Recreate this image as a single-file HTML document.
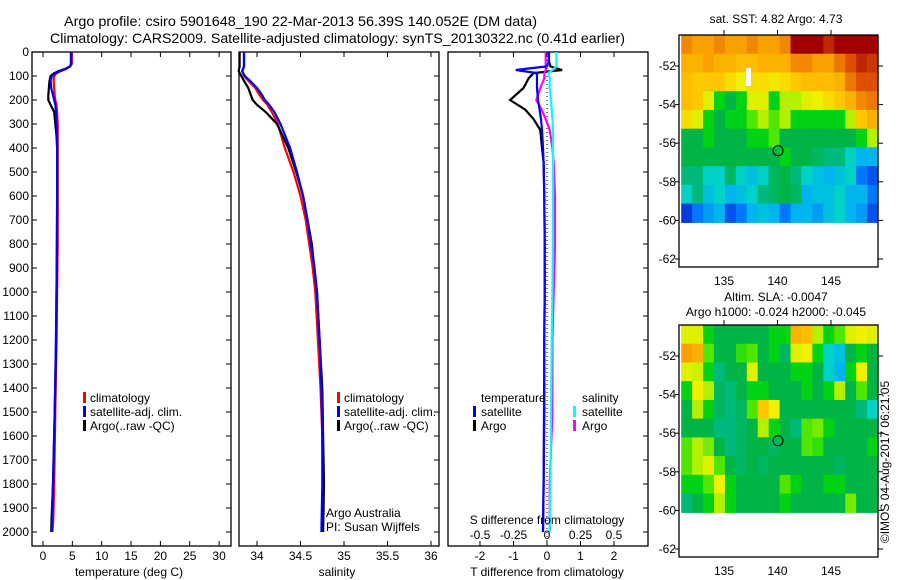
<!DOCTYPE html>
<html><head><meta charset="utf-8">
<style>
html,body{margin:0;padding:0;background:#fff;}
svg{display:block;font-family:"Liberation Sans",Helvetica,sans-serif;font-size:12px;}
</style></head>
<body>
<svg id="fig" width="900" height="580" viewBox="0 0 900 580" xmlns="http://www.w3.org/2000/svg">
<text x="64" y="26" font-size="14" textLength="473" lengthAdjust="spacingAndGlyphs">Argo profile: csiro 5901648_190 22-Mar-2013 56.39S 140.052E (DM data)</text>
<text x="50" y="43" font-size="14" textLength="575" lengthAdjust="spacingAndGlyphs">Climatology: CARS2009. Satellite-adjusted climatology: synTS_20130322.nc (0.41d earlier)</text>
<g id="g"></g>
<text x="776" y="23" text-anchor="middle">sat. SST: 4.82 Argo: 4.73</text>
<text x="776" y="301" text-anchor="middle">Altim. SLA: -0.0047</text>
<text x="776" y="316" text-anchor="middle">Argo h1000: -0.024 h2000: -0.045</text>
<text transform="translate(889,462) rotate(-90)" text-anchor="middle">©IMOS 04-Aug-2017 06:21:05</text>
</svg>
<script>
// ---------- data ----------
const tDepth = [0,50,60,70,80,90,100,120,150,180,200,220,250,300,350,400,600,800,1000,1200,1500,1800,1950,2000];
const tArgo  = [4.75,4.75,4.6,3.8,2.6,1.8,1.3,1.1,1.0,0.9,0.9,1.3,1.9,2.1,2.3,2.4,2.4,2.35,2.3,2.25,2.0,1.7,1.45,1.4];
const tClim  = [4.9,4.9,4.6,4.0,3.0,2.2,1.9,1.8,1.9,2.0,2.1,2.3,2.4,2.5,2.5,2.5,2.5,2.5,2.4,2.3,2.1,1.9,1.75,1.6];
const tSat   = [4.8,4.8,4.6,3.9,2.8,2.0,1.5,1.3,1.4,1.7,1.9,2.1,2.2,2.3,2.4,2.4,2.4,2.4,2.3,2.2,2.0,1.7,1.55,1.5];
const sDepth = [0,60,80,100,120,150,180,200,220,250,300,400,500,600,700,800,900,1000,1200,1400,1600,1800,2000];
const sArgo  = [33.8,33.8,33.79,33.82,33.85,33.9,33.93,33.95,34.0,34.1,34.23,34.36,34.45,34.53,34.58,34.63,34.66,34.69,34.72,34.75,34.76,34.77,34.76];
const sClim  = [33.85,33.85,33.83,33.85,33.9,33.98,34.03,34.07,34.12,34.17,34.24,34.32,34.42,34.5,34.56,34.6,34.64,34.67,34.7,34.73,34.75,34.76,34.75];
const sSat   = [33.85,33.85,33.83,33.86,33.92,34.0,34.06,34.09,34.14,34.2,34.27,34.38,34.46,34.53,34.58,34.62,34.66,34.69,34.72,34.74,34.75,34.75,34.74];
const dDepth = [0,40,60,75,88,110,150,200,240,280,325,400,460,600,800,1000,1200,1500,1800,2000];
const dTArgo = [0.06,0.06,0.1,0.45,-0.4,-0.55,-0.7,-1.1,-0.65,-0.4,-0.2,-0.15,-0.1,-0.08,-0.07,-0.07,-0.08,-0.08,-0.1,-0.12];
const dTSat  = [0.06,0.05,0.0,-0.93,-0.3,-0.3,-0.3,-0.27,-0.22,-0.18,-0.15,-0.12,-0.1,-0.08,-0.07,-0.07,-0.08,-0.09,-0.1,-0.12];
const dSArgo = [-0.01,-0.01,-0.01,-0.01,-0.02,-0.02,-0.05,-0.08,-0.04,-0.01,0.02,0.04,0.05,0.06,0.06,0.05,0.04,0.04,0.02,0.02];
const dSSat  = [0.07,0.07,0.07,0.04,0.01,0.02,0.02,0.03,0.035,0.04,0.045,0.045,0.045,0.045,0.045,0.04,0.035,0.03,0.025,0.02];
const depthTicks = [0,100,200,300,400,500,600,700,800,900,1000,1100,1200,1300,1400,1500,1600,1700,1800,1900,2000];
const tTicks = [0,5,10,15,20,25,30];
const sTicks = [34,34.5,35,35.5,36];
const dtTicks = [-2,-1,0,1,2];
const dsTicks = [-0.5,-0.25,0,0.25,0.5];
const dsTickLabels = ["-0.5","-0.25","0","0.25","0.5"];
const latTicks = [-52,-54,-56,-58,-60,-62];
const lonTicks = [135,140,145];
const argoLon = 140.052, argoLat = -56.39;
const sstGrid = [
[.78,.75,.75,.78,.75,.75,.78,.75,.75,.78,.95,.95,.95,.9,.95,.95,.95,.95],
[.72,.72,.75,.72,.72,.7,.7,.72,.72,.72,.78,.78,.75,.75,.8,.85,.9,.88],
[.7,.68,.68,.68,.65,.62,.65,.65,.63,.65,.68,.7,.7,.7,.72,.8,.85,.85],
[.7,.68,.6,.45,.42,.45,.6,.6,.45,.55,.55,.6,.62,.65,.68,.72,.78,.8],
[.65,.6,.45,.42,.45,.45,.5,.55,.5,.55,.45,.45,.45,.45,.45,.55,.68,.72],
[.42,.42,.45,.42,.42,.42,.45,.45,.5,.42,.42,.42,.42,.42,.42,.42,.45,.55],
[.42,.42,.42,.42,.42,.42,.42,.42,.42,.45,.42,.42,.4,.38,.38,.35,.3,.3],
[.38,.38,.35,.35,.4,.35,.32,.35,.4,.42,.38,.35,.32,.3,.32,.35,.25,.22],
[.35,.38,.32,.35,.3,.32,.35,.38,.4,.42,.4,.3,.32,.32,.35,.3,.3,.25],
[.2,.25,.28,.3,.22,.25,.3,.32,.3,.25,.3,.3,.28,.32,.35,.3,.28,.22]];
const slaGrid = [
[.6,.6,.45,.42,.42,.42,.42,.42,.45,.45,.72,.7,.55,.45,.5,.6,.62,.6],
[.75,.72,.5,.42,.42,.48,.5,.42,.45,.4,.6,.62,.45,.35,.32,.42,.45,.42],
[.6,.58,.45,.38,.42,.42,.6,.42,.42,.42,.45,.45,.42,.35,.3,.45,.62,.42],
[.45,.62,.55,.4,.38,.42,.45,.45,.42,.42,.42,.45,.42,.45,.55,.42,.5,.42],
[.42,.55,.45,.4,.38,.4,.5,.68,.62,.42,.42,.42,.42,.42,.42,.42,.38,.35],
[.42,.42,.42,.38,.38,.4,.42,.55,.45,.42,.38,.5,.52,.45,.42,.42,.42,.42],
[.5,.55,.52,.42,.38,.4,.42,.42,.4,.42,.42,.5,.48,.42,.42,.42,.42,.45],
[.5,.55,.6,.5,.42,.4,.42,.4,.42,.42,.42,.42,.42,.42,.4,.42,.42,.42],
[.45,.45,.5,.62,.45,.42,.42,.42,.42,.5,.45,.42,.42,.45,.45,.42,.42,.42],
[.38,.42,.45,.55,.45,.42,.42,.42,.42,.45,.42,.42,.42,.42,.42,.52,.42,.42]];

// ---------- helpers ----------
const NS="http://www.w3.org/2000/svg";
const G=document.getElementById('g');
function mk(tag,attrs,parent){const e=document.createElementNS(NS,tag);for(const k in attrs)e.setAttribute(k,attrs[k]);(parent||G).appendChild(e);return e;}
const PT=52, PB=546;
const yD = d => PT + d*0.24;
const xT = v => 43 + v*5.87;
const xS = v => 257 + (v-34)*87;
const xDT = v => 547 + v*33.5;
const xDS = v => 547 + v*134;
function poly(xs,ds,fx,color,name,w){
  const pts=xs.map((v,i)=>fx(v).toFixed(1)+','+yD(ds[i]).toFixed(1)).join(' ');
  const p=mk('polyline',{points:pts,fill:'none',stroke:color,'stroke-width':w||2.2});
  
  
}
function txt(x,y,s,anchor,name){const t=mk('text',{x:x,y:y,'text-anchor':anchor||'start'});t.textContent=s;
  return t;}
function panel(x0,x1,name){
  const r=mk('rect',{x:x0,y:PT,width:x1-x0,height:PB-PT,fill:'none',stroke:'#000','stroke-width':1.3});
  
  depthTicks.forEach(d=>{mk('line',{x1:x1-5,x2:x1,y1:yD(d),y2:yD(d),stroke:'#000'});});
}
function xticks(vals,fx,labels,y,name){
  vals.forEach((v,i)=>{const x=fx(v);
    mk('line',{x1:x,x2:x,y1:PT,y2:PT+5,stroke:'#000'});
    mk('line',{x1:x,x2:x,y1:PB-5,y2:PB,stroke:'#000'});
    txt(x,y,labels?labels[i]:String(v),'middle',name);});
}
function legBar(x,y,color,name){const r=mk('rect',{x:x,y:y-10,width:3,height:11,fill:color});
  }

// ---------- panel 1: temperature ----------
panel(32,231,'temperature-panel');
depthTicks.forEach(d=>{mk('line',{x1:32,x2:37,y1:yD(d),y2:yD(d),stroke:'#000'});txt(29,yD(d)+4,String(d),'end','depth-tick-label');});
xticks(tTicks,xT,null,560,'temperature-tick-label');
txt(129,576,'temperature (deg C)','middle','temperature-axis-title');
poly(tClim,tDepth,xT,'#f00','climatology-temperature-line');
poly(tArgo,tDepth,xT,'#000','argo-temperature-line');
poly(tSat,tDepth,xT,'#00f','satellite-temperature-line');
legBar(83,402,'#f00','legend-climatology-marker');txt(90,402,'climatology','start','legend-climatology');
legBar(83,416,'#00f','legend-satellite-marker');txt(90,416,'satellite-adj. clim.','start','legend-satellite');
legBar(83,430,'#000','legend-argo-marker');txt(90,430,'Argo(..raw -QC)','start','legend-argo');

// ---------- panel 2: salinity ----------
panel(239,439,'salinity-panel');
xticks(sTicks,xS,null,560,'salinity-tick-label');
txt(337,576,'salinity','middle','salinity-axis-title');
poly(sClim,sDepth,xS,'#f00','climatology-salinity-line');
poly(sArgo,sDepth,xS,'#000','argo-salinity-line');
poly(sSat,sDepth,xS,'#00f','satellite-salinity-line');
legBar(337,402,'#f00','legend-climatology-marker-2');txt(344,402,'climatology','start','legend-climatology-2');
legBar(337,416,'#00f','legend-satellite-marker-2');txt(344,416,'satellite-adj. clim.','start','legend-satellite-2');
legBar(337,430,'#000','legend-argo-marker-2');txt(344,430,'Argo(..raw -QC)','start','legend-argo-2');
txt(326,517,'Argo Australia','start','argo-australia-credit');
txt(326,531,'PI: Susan Wijffels','start','pi-credit');

// ---------- panel 3: differences ----------
panel(448,648,'difference-panel');
mk('line',{x1:547,x2:547,y1:PT,y2:PB,stroke:'#000','stroke-dasharray':'1,3'});
poly(dTArgo,dDepth,xDT,'#000','argo-t-difference-line');
poly(dSArgo,dDepth,xDS,'#f0f','argo-s-difference-line');
poly(dSSat,dDepth,xDS,'#0ff','satellite-s-difference-line');
poly(dTSat,dDepth,xDT,'#00f','satellite-t-difference-line');
dtTicks.forEach(v=>{const x=xDT(v);mk('line',{x1:x,x2:x,y1:PB-5,y2:PB,stroke:'#000'});mk('line',{x1:x,x2:x,y1:PT,y2:PT+5,stroke:'#000'});txt(x,560,String(v),'middle','t-difference-tick-label');});
dsTicks.forEach((v,i)=>{txt(xDS(v),539,dsTickLabels[i],'middle','s-difference-tick-label');});
txt(547,524,'S difference from climatology','middle','s-difference-axis-title');
txt(547,576,'T difference from climatology','middle','t-difference-axis-title');
txt(481,402,'temperature','start','legend-temperature-heading');
txt(582,402,'salinity','start','legend-salinity-heading');
legBar(473,416,'#00f','legend-t-satellite-marker');txt(481,416,'satellite','start','legend-t-satellite');
legBar(473,430,'#000','legend-t-argo-marker');txt(481,430,'Argo','start','legend-t-argo');
legBar(573,416,'#0ff','legend-s-satellite-marker');txt(582,416,'satellite','start','legend-s-satellite');
legBar(573,430,'#f0f','legend-s-argo-marker');txt(582,430,'Argo','start','legend-s-argo');

// ---------- maps ----------
const cmapStops=[[0.0,[0,0,150]],[0.2,[0,60,220]],[0.25,[0,120,255]],[0.3,[0,180,240]],[0.35,[0,210,200]],[0.38,[0,185,125]],[0.42,[0,180,70]],[0.45,[0,210,20]],[0.5,[80,230,0]],[0.55,[180,240,0]],[0.62,[240,240,0]],[0.68,[255,200,0]],[0.75,[250,160,0]],[0.85,[220,80,0]],[0.95,[160,0,0]],[1.0,[140,0,0]]];
function cmap(v){
  for(let i=1;i<cmapStops.length;i++){
    const [a,ca]=cmapStops[i-1],[b,cb]=cmapStops[i];
    if(v<=b){const t=Math.max(0,(v-a)/(b-a));return 'rgb('+ca.map((c,k)=>Math.round(c+(cb[k]-c)*t)).join(',')+')';}
  }
  return 'rgb(140,0,0)';
}
function map(top,grid,name,lonLabelY){
  const L=679,R=878,B=top+232;
  const xL = lon => 724 + (lon-135)*10.7;
  const yL = lat => top+31 + (-52-lat)*19.3;
  const x0=xL(131), y0=top, dataBottom=yL(-60.1);
  const rows=grid.length, cols=grid[0].length;
  const cw=(R-x0)/cols, ch=(dataBottom-y0)/rows;
  grid.forEach((row,i)=>row.forEach((v,j)=>{
    const r=mk('rect',{x:(Math.max(L,x0+j*cw)).toFixed(2),y:(y0+i*ch).toFixed(2),width:(cw+0.6).toFixed(2),height:(ch+0.6).toFixed(2),fill:cmap(v)});
    
    
  }));
  mk('rect',{x:L,y:top,width:R-L,height:B-top,fill:'none',stroke:'#000','stroke-width':1.3});
  latTicks.forEach(lat=>{const y=yL(lat);mk('line',{x1:R,x2:R+5,y1:y,y2:y,stroke:'#000'});mk('line',{x1:L-4,x2:L,y1:y,y2:y,stroke:'#000'});txt(L-3,y+4,String(lat),'end',name+'-lat-label');});
  lonTicks.forEach(lon=>{const x=xL(lon);mk('line',{x1:x,x2:x,y1:top-5,y2:top,stroke:'#000'});txt(x,lonLabelY,String(lon),'middle',name+'-lon-label');});
  const c=mk('circle',{cx:xL(argoLon),cy:yL(argoLat),r:5,fill:'none',stroke:'#000','stroke-width':1});
  
  
}
map(35,sstGrid,'sst-map',285);
mk('rect',{x:746,y:68,width:5,height:18,fill:'#fff'});
map(325,slaGrid,'sla-map',575);
</script>
</body></html>
